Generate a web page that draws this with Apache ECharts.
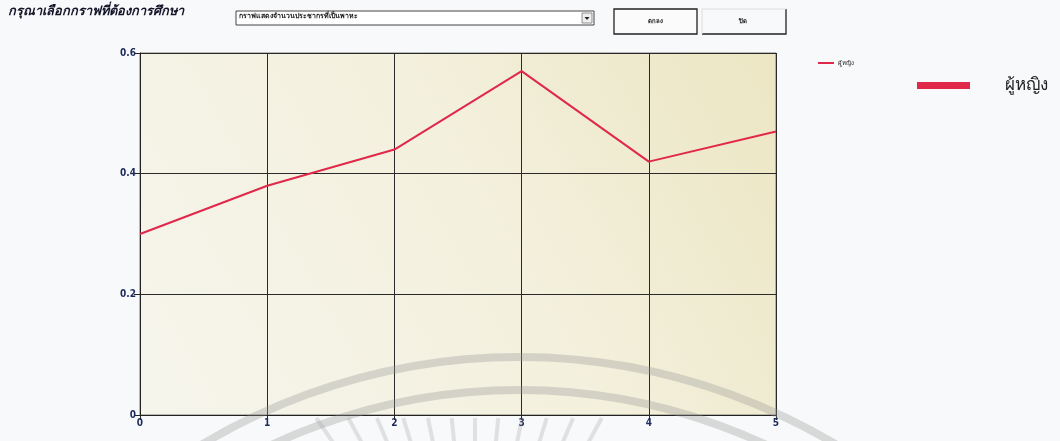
<!DOCTYPE html>
<html>
<head>
<meta charset="utf-8">
<script src="https://cdn.jsdelivr.net/npm/echarts@6/dist/echarts.min.js"></script>
<style>
html,body{margin:0;padding:0;background:#f8f9fa;}
#chart{width:1060px;height:441px;}
</style>
</head>
<body>
<div id="chart"></div>
<script>
// ---- data ----
const xValues = [0, 1, 2, 3, 4, 5];
const femaleValues = [0.30, 0.38, 0.44, 0.57, 0.42, 0.47];
const seriesName = 'ผู้หญิง';
const pageTitle = 'กรุณาเลือกกราฟที่ต้องการศึกษา';
const dropdownText = 'กราฟแสดงจำนวนประชากรที่เป็นพาหะ';
const buttonLabels = ['ตกลง', 'ปิด'];

const thaiFont = '"Noto Sans", "DejaVu Sans", sans-serif';
const numFont = '"Liberation Sans Narrow", "DejaVu Sans Condensed", sans-serif';
const chart = echarts.init(document.getElementById('chart'));

// faint watermark (scan artefact): arcs and rays
const wm = [];
const wcx = 519, wcy = 975;
[618, 585].forEach(r => {
  wm.push({type:'arc', silent:true, z:1,
    shape:{cx:wcx, cy:wcy, r:r, startAngle:-2.25, endAngle:-0.89, clockwise:true},
    style:{stroke:'rgba(150,150,150,0.33)', lineWidth:8, fill:null}});
});
const rcx = 475, rcy = 650;
for (let k = -6; k <= 5; k++) {
  const t = k*0.1;
  const a = -Math.PI/2 + t;
  const r1 = (rcy - 418) / Math.cos(t);
  const r2 = (rcy - 446) / Math.cos(t);
  wm.push({type:'line', silent:true, z:1,
    shape:{x1:rcx + r1*Math.cos(a), y1:rcy + r1*Math.sin(a), x2:rcx + r2*Math.cos(a), y2:rcy + r2*Math.sin(a)},
    style:{stroke:'rgba(150,150,150,0.25)', lineWidth:4}});
}

const ui = [
  {type:'text', left:8, top:5, style:{text:pageTitle, font:'italic bold 12.8px ' + thaiFont, fill:'#15152a'}},
  // dropdown
  {type:'rect', shape:{x:236, y:11, width:358, height:14}, style:{fill:'#ffffff', stroke:'#444', lineWidth:1}},
  {type:'rect', shape:{x:582, y:13, width:10, height:10}, style:{fill:'#eeeeee', stroke:'#777', lineWidth:0.8}},
  {type:'polygon', shape:{points:[[584.5,17],[589.5,17],[587,20]]}, style:{fill:'#222'}},
  {type:'text', left:239, top:12, style:{text:dropdownText, font:'bold 7px ' + thaiFont, fill:'#222'}},
  // buttons
  {type:'rect', shape:{x:614, y:9, width:83, height:25}, style:{fill:'#fbfbfb', stroke:'#222', lineWidth:1.3}},
  {type:'text', x:655, y:21, style:{text:buttonLabels[0], font:'bold 6px ' + thaiFont, fill:'#111', textAlign:'center', textVerticalAlign:'middle'}},
  {type:'polyline', shape:{points:[[702,34],[786,34],[786,9]]}, style:{stroke:'#222', lineWidth:1.3, fill:null}},
  {type:'polyline', shape:{points:[[702,34],[702,9],[786,9]]}, style:{stroke:'#dcdcdc', lineWidth:1, fill:null}},
  {type:'text', x:743, y:21, style:{text:buttonLabels[1], font:'bold 6px ' + thaiFont, fill:'#111', textAlign:'center', textVerticalAlign:'middle'}}
];

chart.setOption({
  backgroundColor:'#f8f9fa',
  animation:false,
  grid:{left:140, top:53, right:284, bottom:26, show:true,
    backgroundColor:new echarts.graphic.LinearGradient(0,1,1,0,[
      {offset:0, color:'#f6f5ec'}, {offset:0.55, color:'#f3f0dd'}, {offset:1, color:'#ece6c3'}]),
    borderColor:'#7a7a72', borderWidth:1},
  legend:[
    {data:[seriesName], left:813, top:55, orient:'vertical', icon:'rect', itemWidth:16, itemHeight:2,
      textStyle:{fontSize:6, color:'#222', fontFamily:thaiFont, padding:[0,0,0,-1]}},
    {data:[seriesName], left:912, top:72, orient:'vertical', icon:'rect', itemWidth:53, itemHeight:7,
      textStyle:{fontSize:17, color:'#222', fontFamily:thaiFont, padding:[0,0,0,30]}}
  ],
  xAxis:{type:'value', min:0, max:5, interval:1,
    axisLine:{show:true, onZero:false, lineStyle:{color:'#222', width:1}},
    axisTick:{show:true, length:5, lineStyle:{color:'#222'}},
    axisLabel:{color:'#1d2a5c', fontSize:10, fontWeight:'bold', margin:3, fontFamily:numFont},
    splitLine:{show:true, lineStyle:{color:'#2a2a2a', width:1}}},
  yAxis:{type:'value', min:0, max:0.6, interval:0.2,
    axisLine:{show:true, lineStyle:{color:'#222', width:1}},
    axisTick:{show:true, length:6, lineStyle:{color:'#222'}},
    axisLabel:{color:'#1d2a5c', fontSize:10, fontWeight:'bold', margin:4, fontFamily:numFont},
    splitLine:{show:true, lineStyle:{color:'#2a2a2a', width:1}}},
  series:[{name:seriesName, type:'line', symbol:'none', z:5,
    data:xValues.map((x,i) => [x, femaleValues[i]]),
    lineStyle:{color:'#e0284a', width:2}, itemStyle:{color:'#e0284a'}}],
  graphic:ui.concat(wm)
});
</script>
</body>
</html>
